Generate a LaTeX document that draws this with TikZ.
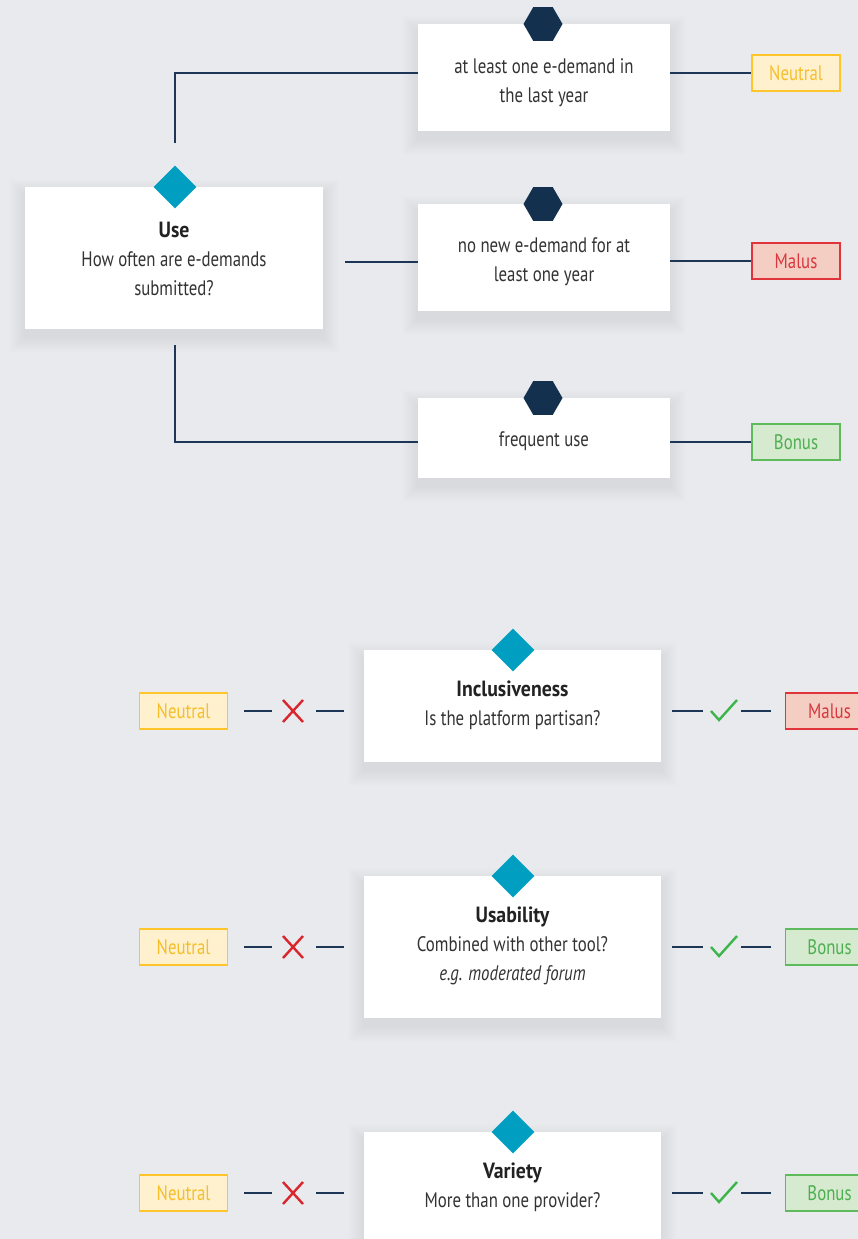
\documentclass[tikz,border=0pt]{standalone}
\usepackage{fontspec}
\setmainfont{PT Sans}[FakeStretch=0.8, BoldFeatures={FakeStretch=0.9}]
\usetikzlibrary{shapes.geometric}
\definecolor{bgc}{HTML}{E9EAEE}
\definecolor{navyline}{HTML}{1E3656}
\definecolor{navyhex}{HTML}{14304F}
\definecolor{teal}{HTML}{009FC2}
\definecolor{bodytxt}{HTML}{333333}
\definecolor{titletxt}{HTML}{222222}
\definecolor{neufill}{HTML}{FFF0CE}
\definecolor{neudraw}{HTML}{FFC52B}
\definecolor{neutxt}{HTML}{F5BF2A}
\definecolor{malfill}{HTML}{F4CEC2}
\definecolor{maldraw}{HTML}{E0333A}
\definecolor{maltxt}{HTML}{D9363E}
\definecolor{bonfill}{HTML}{D6EACF}
\definecolor{bondraw}{HTML}{5DBB5C}
\definecolor{bontxt}{HTML}{4DAF50}
\definecolor{xred}{HTML}{D9262C}
\definecolor{ckgreen}{HTML}{3CB54A}
\pgfdeclarelayer{bg}
\pgfsetlayers{bg,main}
\newcommand{\cardshade}[1]{%
  \begin{pgfonlayer}{bg}
  \foreach \k in {1,...,16}{
    \fill[black, opacity=0.0055] ([shift={(-\k,-\k+8)}]#1.north west) rectangle ([shift={(\k,\k+8)}]#1.south east);
  }
  \end{pgfonlayer}}
\newcommand{\ttl}[1]{{\fontsize{22}{29}\selectfont\bfseries\color{titletxt}#1}}
\begin{document}
\begin{tikzpicture}[x=1pt,y=-1pt,
  card/.style={fill=white, draw=none, inner sep=0pt},
  txt/.style={align=center, text=bodytxt, inner sep=0pt, font=\fontsize{21}{29}\selectfont},
  hexa/.style={regular polygon, regular polygon sides=6, minimum size=39pt, inner sep=0pt, fill=navyhex},
  diam/.style={diamond, aspect=1, minimum width=43pt, minimum height=43pt, inner sep=0pt, fill=teal},
  conn/.style={draw=navyline, line width=1.2pt},
  lbl/.style={minimum width=88pt, minimum height=36pt, inner sep=0pt, line width=1.1pt, font=\fontsize{21}{24}\selectfont},
  neutral/.style={lbl, fill=neufill, draw=neudraw, text=neutxt},
  malus/.style={lbl, fill=malfill, draw=maldraw, text=maltxt},
  bonus/.style={lbl, fill=bonfill, draw=bondraw, text=bontxt},
  icon/.style={minimum size=22pt, inner sep=0pt},
  xmk/.style={draw=xred, line width=2.4pt},
  ckm/.style={draw=ckgreen, line width=2.4pt}]
\begin{pgfonlayer}{bg}
\fill[bgc] (0,0) rectangle (858,1239);
\end{pgfonlayer}
\useasboundingbox (0,0) rectangle (858,1239);

% ---------- top section ----------
\node[card, minimum width=298pt, minimum height=142pt] (use) at (174,258) {};
\cardshade{use}
\node[diam] (used) at (175,187) {};
\node[txt] (uset) at (174,259) {\ttl{Use}\\How often are e-demands\\submitted?};

\node[card, minimum width=252pt, minimum height=107pt] (b1) at (544,77.5) {};
\cardshade{b1}
\node[hexa] (h1) at (543,24) {};
\node[txt] (t1) at (544,82.5) {at least one e-demand in\\the last year};

\node[card, minimum width=252pt, minimum height=107pt] (b2) at (544,257.5) {};
\cardshade{b2}
\node[hexa] (h2) at (543,204) {};
\node[txt] (t2) at (544,261.5) {no new e-demand for at\\least one year};

\node[card, minimum width=252pt, minimum height=80pt] (b3) at (544,438) {};
\cardshade{b3}
\node[hexa] (h3) at (543,398) {};
\node[txt] (t3) at (544,441) {frequent use};

\node[neutral] (n1) at (796,73) {Neutral};
\node[malus] (m1) at (796,261) {Malus};
\node[bonus] (p1) at (796,442) {Bonus};

\coordinate (u1) at (175,143);
\coordinate (u2) at (345,262);
\coordinate (u3) at (175,345);

\draw[conn] (u1) |- (b1.west |- n1.west);
\draw[conn] (u2) -- (b2.west |- u2);
\draw[conn] (u3) |- (b3.west |- p1.west);
\draw[conn] (b1.east |- n1.west) -- (n1.west);
\draw[conn] (b2.east |- m1.west) -- (m1.west);
\draw[conn] (b3.east |- p1.west) -- (p1.west);

% ---------- Inclusiveness ----------
\node[card, minimum width=297pt, minimum height=112pt] (inc) at (512.5,706) {};
\cardshade{inc}
\node[diam] (incd) at (513,650) {};
\node[txt] (inct) at (512.5,705.5) {\ttl{Inclusiveness}\\Is the platform partisan?};
\node[neutral] (n2) at (183.5,711) {Neutral};
\node[malus] (m2) at (829.5,711) {Malus};
\node[icon] (x2) at (293,711) {};
\node[icon] (c2) at (724,711) {};

% ---------- Usability ----------
\node[card, minimum width=297pt, minimum height=142pt] (usa) at (512.5,947) {};
\cardshade{usa}
\node[diam] (usad) at (513,876) {};
\node[txt] (usat) at (512.5,946) {\ttl{Usability}\\Combined with other tool?\\\textit{e.g. moderated forum}};
\node[neutral] (n3) at (183.5,947) {Neutral};
\node[bonus] (p3) at (829.5,947) {Bonus};
\node[icon] (x3) at (293,947) {};
\node[icon] (c3) at (724,947) {};

% ---------- Variety ----------
\node[card, minimum width=297pt, minimum height=142pt] (var) at (512.5,1203) {};
\cardshade{var}
\node[diam] (vard) at (513,1132) {};
\node[txt] (vart) at (512.5,1187.5) {\ttl{Variety}\\More than one provider?};
\node[neutral] (n4) at (183.5,1193) {Neutral};
\node[bonus] (p4) at (829.5,1193) {Bonus};
\node[icon] (x4) at (293,1193) {};
\node[icon] (c4) at (724,1193) {};

% dashes and marks
\foreach \n/\x/\c/\b/\r in {n2/x2/c2/inc/m2, n3/x3/c3/usa/p3, n4/x4/c4/var/p4}{
  \draw[conn, shorten <=16pt, shorten >=10pt] (\n.east) -- (\x.west);
  \draw[conn, shorten <=12pt, shorten >=20pt] (\x.east) -- (\b.west |- \x.east);
  \draw[conn, shorten <=11pt, shorten >=10pt] (\b.east |- \c.west) -- (\c.west);
  \draw[conn, shorten <=6pt, shorten >=14pt] (\c.east) -- (\r.west);
  \draw[xmk] ([shift={(-10,-11)}]\x.center) -- ([shift={(10,11)}]\x.center)
             ([shift={(10,-11)}]\x.center) -- ([shift={(-10,11)}]\x.center);
  \draw[ckm, line join=miter] ([shift={(-13,0)}]\c.center) -- ([shift={(-5,9)}]\c.center) -- ([shift={(13,-11)}]\c.center);
}
\end{tikzpicture}
\end{document}
